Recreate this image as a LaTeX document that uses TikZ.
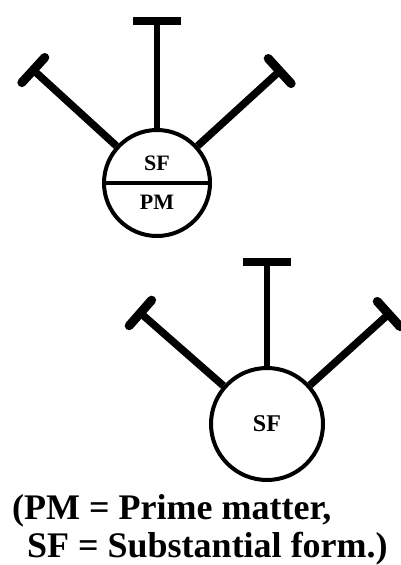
\documentclass[tikz,border=0pt]{standalone}
\usepackage{fontspec}
\setmainfont{Liberation Serif}
\usetikzlibrary{arrows.meta, shapes.multipart}

\begin{document}
\begin{tikzpicture}[x=1pt, y=-1pt,
split/.style={circle split, draw, line width=4pt, minimum size=106pt, inner sep=10pt, font=\fontsize{22}{22}\selectfont\bfseries},
whole/.style={circle, draw, line width=4pt, minimum size=112pt, inner sep=0pt, font=\fontsize{24}{24}\selectfont\bfseries},
arm/.style={draw, line width=7.5pt, -{Bar[width=34pt, line width=9pt, round]}},
stem/.style={draw, line width=6pt, -{Bar[width=48pt, line width=8pt]}},
note/.style={align=left, inner sep=0pt, font=\fontsize{36}{38}\selectfont\bfseries}]

\path[use as bounding box, clip] (0,0) rectangle (401,565);

% upper figure
\node[split] (SFPM) at (157,183) {SF \nodepart{lower} PM};
\coordinate (T1) at (30,67);
\coordinate (T2) at (157,17);
\coordinate (T3) at (283,68);

\path[arm] (SFPM) to (T1);
\path[stem] (SFPM) to (T2);
\path[arm] (SFPM) to (T3);

% lower figure
\node[whole] (SF) at (267,424) {SF};
\coordinate (U1) at (137,310);
\coordinate (U2) at (267,258);
\coordinate (U3) at (392,311);

\path[arm] (SF) to (U1);
\path[stem] (SF) to (U2);
\path[arm] (SF) to (U3);

\node[note, anchor=north west] (key) at (12,494) {(PM = Prime matter,\\\hspace*{15pt}SF = Substantial form.)};
\end{tikzpicture}
\end{document}
